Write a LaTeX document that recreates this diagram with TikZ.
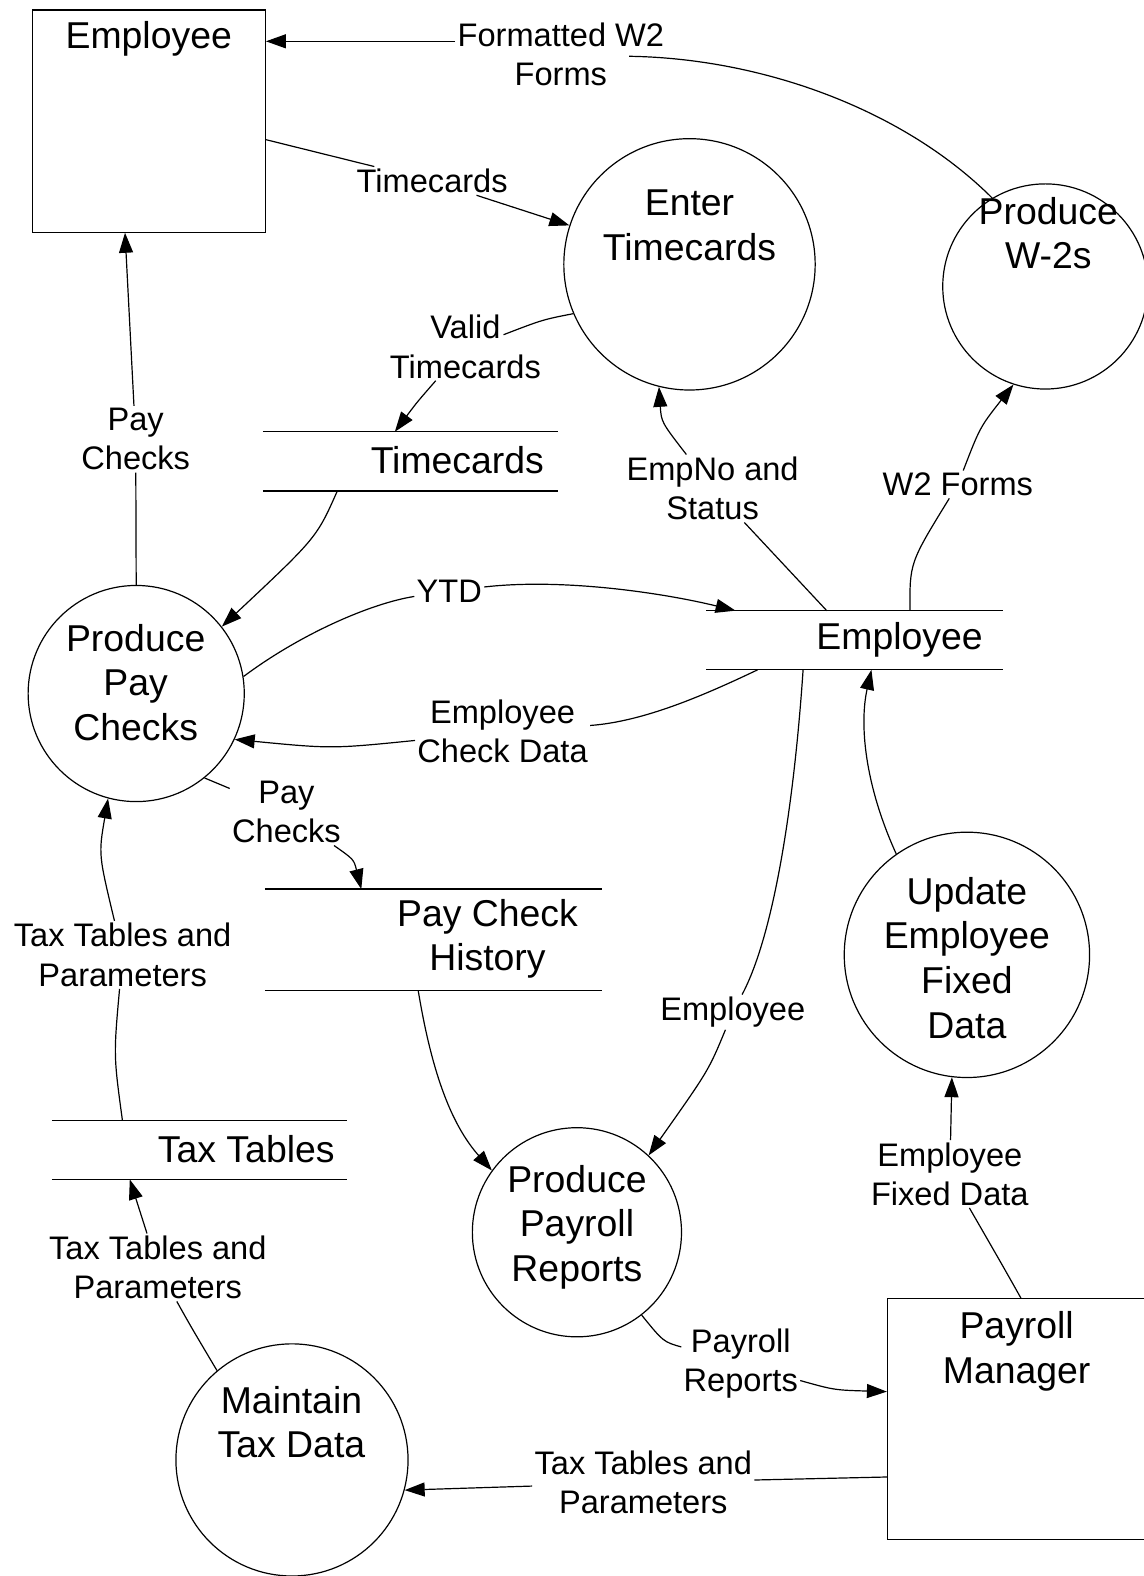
\documentclass[tikz,border=0pt]{standalone}
\usepackage{fontspec}
\setmainfont{Liberation Sans}
\usetikzlibrary{arrows.meta,positioning}
\newcommand{\procfont}{\fontsize{18.7}{22.4}\selectfont}
\newcommand{\flowfont}{\fontsize{16.3}{19.6}\selectfont}
\tikzset{
  proc/.style={circle,draw,line width=.6pt,inner sep=0pt},
  ptext/.style={font=\procfont,align=center,inner sep=0pt},
  ext/.style={rectangle,draw,line width=.6pt,inner sep=0pt},
  store/.style={rectangle,inner sep=0pt,append after command={
    (\tikzlastnode.north west) edge[line width=.6pt] (\tikzlastnode.north east)
    (\tikzlastnode.south west) edge[line width=.6pt] (\tikzlastnode.south east)}},
  flowlbl/.style={font=\flowfont,align=center,inner sep=1pt},
  flow/.style={line width=.6pt},
  arrowflow/.style={flow,-{Triangle[length=10pt,width=7pt]}}
}
\begin{document}
\begin{tikzpicture}[x=0.5027pt,y=-0.5027pt]
\useasboundingbox (0,0) rectangle (1138,1568);
\node[ext,minimum width=116.6pt,minimum height=111.1pt] (emp) at (148,120.5) {};
\node[ptext,below=6pt of emp.north] (empT) {Employee};
\node[ext,minimum width=129.2pt,minimum height=120.6pt] (pm) at (1011.5,1412) {};
\node[ptext,below=6.5pt of pm.north] (pmT) {Payroll\\Manager};
\node[proc,minimum size=125.7pt] (ent) at (686,263) {};
\node[ptext] (entT) at (686,224) {Enter\\Timecards};
\node[proc,minimum size=102.6pt] (w2) at (1040,285) {};
\node[ptext] (w2T) at (1043,232) {Produce\\W-2s};
\node[proc,minimum size=108.1pt] (ppc) at (135.5,690) {};
\node[ptext] (ppcT) at (135,679) {Produce\\Pay\\Checks};
\node[proc,minimum size=122.7pt] (upd) at (962,950) {};
\node[ptext] (updT) at (962,953) {Update\\Employee\\Fixed\\Data};
\node[proc,minimum size=104.6pt] (ppr) at (574,1226) {};
\node[ptext] (pprT) at (574,1221) {Produce\\Payroll\\Reports};
\node[proc,minimum size=116.1pt] (mtd) at (290.5,1452.5) {};
\node[ptext] (mtdT) at (290,1415) {Maintain\\Tax Data};
\node[store,minimum width=147.3pt,minimum height=29.2pt] (tc) at (408.5,459) {};
\node[ptext] (tcT) at (455,458) {Timecards};
\node[store,minimum width=147.8pt,minimum height=29.2pt] (es) at (850,637) {};
\node[ptext] (esT) at (895,637) {Employee};
\node[store,minimum width=168.4pt,minimum height=50.3pt] (pch) at (431.5,935) {};
\node[ptext] (pchT) at (485,934) {Pay Check\\History};
\node[store,minimum width=147.3pt,minimum height=29.2pt] (tt) at (198.5,1144) {};
\node[ptext] (ttT) at (245,1143) {Tax Tables};

\node[flowlbl] (fw2) at (558,54) {Formatted W2\\Forms};
\node[flowlbl] (tcL) at (430,180) {Timecards};
\node[flowlbl] (vtc) at (463,345) {Valid\\Timecards};
\node[flowlbl] (pcL) at (135,437) {Pay\\Checks};
\node[flowlbl] (ytd) at (447,588) {YTD};
\node[flowlbl] (ecd) at (500,728) {Employee\\Check Data};
\node[flowlbl] (enst) at (709,486) {EmpNo and\\Status};
\node[flowlbl] (w2f) at (953,482) {W2 Forms};
\node[flowlbl] (pc2) at (285,808) {Pay\\Checks};
\node[flowlbl] (ttp1) at (122,950) {Tax Tables and\\Parameters};
\node[flowlbl] (empL) at (729,1007) {Employee};
\node[flowlbl] (efd) at (945,1168) {Employee\\Fixed Data};
\node[flowlbl] (ttp2) at (157,1261) {Tax Tables and\\Parameters};
\node[flowlbl] (prr) at (737,1357) {Payroll\\Reports};
\node[flowlbl] (ttp3) at (640,1475) {Tax Tables and\\Parameters};

\draw[flow] (w2.121) .. controls (900,110) and (760,58) .. ([shift={(68,2)}]fw2.center);
\draw[arrowflow] (fw2.173) -- (fw2.173 -| emp.east);
\draw[flow] (emp.-9) -- (tcL);
\draw[arrowflow] (tcL) -- (ent);
\draw[flow] (ent.203) .. controls (540,318) .. ([shift={(38,-12)}]vtc.center);
\draw[arrowflow] (vtc) .. controls (415,400) .. (tc.118);
\draw[arrowflow] (tc.202) .. controls (315,535) .. (ppc.38);
\draw[flow] (ppc.north) -- (pcL);
\draw[arrowflow] (pcL) -- (emp.258);
\draw[flow] (ppc.9) .. controls (300,630) and (370,600) .. (ytd);
\draw[arrowflow] (ytd) .. controls (560,575) and (660,590) .. (es.166);
\draw[flow] (es.197) .. controls (700,692) and (640,718) .. (ecd);
\draw[arrowflow] (ecd) .. controls (330,745) .. (ppc.335);
\draw[flow] (ppc.309) -- (pc2);
\draw[arrowflow] (pc2) .. controls (352,855) .. (pch.145);
\draw[flow] (es.133) -- (enst);
\draw[arrowflow] (enst) .. controls (658,420) .. (ent.256);
\draw[flow] (es.28) .. controls (905,560) .. (w2f);
\draw[arrowflow] (w2f) .. controls (975,425) .. (w2.252);
\draw[arrowflow] (upd.125) .. controls (860,780) and (855,720) .. (es.300);
\draw[flow] (es.210) .. controls (790,800) and (770,930) .. (empL);
\draw[arrowflow] (empL) .. controls (705,1065) .. (ppr.47);
\draw[arrowflow] (pch.253) .. controls (430,1070) and (450,1120) .. (ppr.144);
\draw[flow] (tt.159) .. controls (113,1050) .. (ttp1);
\draw[arrowflow] (ttp1) .. controls (98,850) .. (ppc.255);
\draw[flow] (mtd.130) .. controls (190,1320) .. (ttp2);
\draw[arrowflow] (ttp2) -- (tt.203);
\draw[flow] (pm.88) .. controls (998,1260) .. (efd);
\draw[arrowflow] (efd) -- (upd.263);
\draw[flow] (ppr.308) .. controls (660,1335) .. (prr);
\draw[arrowflow] (prr) .. controls (830,1383) .. (pm.168);
\draw[flow] (pm.204) -- (ttp3);
\draw[arrowflow] (ttp3) -- (mtd.345);
\end{tikzpicture}
\end{document}
